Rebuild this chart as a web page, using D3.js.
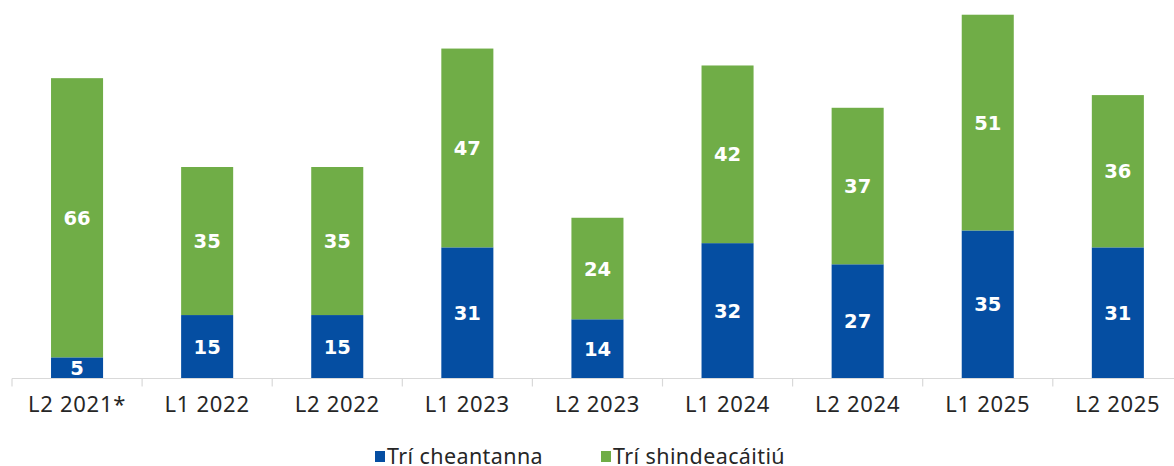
<!DOCTYPE html>
<html>
<head>
<meta charset="utf-8">
<script src="https://cdn.jsdelivr.net/npm/d3@7"></script>
<style>
  body { margin: 0; background: #fff; }
</style>
</head>
<body>
<div id="chart"></div>
<script>
// Chart data
var categories = ["L2 2021*", "L1 2022", "L2 2022", "L1 2023", "L2 2023", "L1 2024", "L2 2024", "L1 2025", "L2 2025"];
var regions = [5, 15, 15, 31, 14, 32, 27, 35, 31];          // Trí cheantanna
var syndication = [66, 35, 35, 47, 24, 42, 37, 51, 36];     // Trí shindeacáitiú
var seriesNames = ["Trí cheantanna", "Trí shindeacáitiú"];
var colors = ["#054ea2", "#70ad47"];

// Setting chart parameters
var svgWidth = 1174;
var svgHeight = 466;
var baseY = 378.5;
var unit = 4.23;

var svg = d3.select("#chart")
  .append("svg")
  .attr("width", svgWidth)
  .attr("height", svgHeight);

// Scales
var x = d3.scaleBand().domain(categories).range([12, 12 + 9 * 130.1]).padding(0);
var y = d3.scaleLinear().domain([0, 100]).range([baseY, baseY - 100 * unit]);

var barW = x.bandwidth() * 0.4;

// Stack the two series
var rows = categories.map(function(c, i) {
  return { cat: c, s0: regions[i], s1: syndication[i] };
});
var stack = d3.stack().keys(["s0", "s1"])(rows);

var layers = svg.selectAll("g.layer")
  .data(stack)
  .enter().append("g")
  .attr("class", "layer")
  .attr("fill", function(d, i) { return colors[i]; });

layers.selectAll("rect")
  .data(function(d) { return d; })
  .enter().append("rect")
  .attr("x", function(d) { return x(d.data.cat) + (x.bandwidth() - barW) / 2; })
  .attr("width", barW)
  .attr("y", function(d) { return y(d[1]); })
  .attr("height", function(d) { return y(d[0]) - y(d[1]); });

// Value labels
layers.selectAll("text")
  .data(function(d) { return d; })
  .enter().append("text")
  .attr("x", function(d) { return x(d.data.cat) + x.bandwidth() / 2; })
  .attr("y", function(d) { return (y(d[0]) + y(d[1])) / 2; })
  .attr("dy", "0.36em")
  .attr("text-anchor", "middle")
  .attr("fill", "#fff")
  .style("font-family", "DejaVu Sans, sans-serif")
  .style("font-weight", "bold")
  .style("font-size", "19.5px")
  .text(function(d) { return d[1] - d[0]; });

// X axis: line with ticks between categories
var axis = svg.append("g").attr("class", "x-axis");
axis.append("line")
  .attr("x1", 12).attr("x2", svgWidth)
  .attr("y1", baseY).attr("y2", baseY)
  .attr("stroke", "#d9d9d9").attr("stroke-width", 1.2);
var tickPos = categories.map(function(c) { return x(c); }).concat([x.range()[1]]);
axis.selectAll("line.tick")
  .data(tickPos)
  .enter().append("line")
  .attr("class", "tick")
  .attr("x1", function(d) { return d; }).attr("x2", function(d) { return d; })
  .attr("y1", baseY).attr("y2", baseY + 8)
  .attr("stroke", "#d9d9d9").attr("stroke-width", 1.2);
axis.selectAll("text")
  .data(categories)
  .enter().append("text")
  .attr("x", function(d) { return x(d) + x.bandwidth() / 2; })
  .attr("y", 412)
  .attr("text-anchor", "middle")
  .attr("fill", "#262626")
  .style("font-family", "Noto Sans, sans-serif")
  .style("font-size", "22px")
  .style("letter-spacing", "0.7px")
  .text(function(d) { return d; });

// Legend
var legendX = [375, 601];
var legend = svg.selectAll("g.legend")
  .data(seriesNames)
  .enter().append("g")
  .attr("class", "legend")
  .attr("transform", function(d, i) { return "translate(" + legendX[i] + ",451)"; });
legend.append("rect")
  .attr("width", 10).attr("height", 11)
  .attr("fill", function(d, i) { return colors[i]; });
legend.append("text")
  .attr("x", 12)
  .attr("y", 12.5)
  .attr("fill", "#262626")
  .style("font-family", "Noto Sans, sans-serif")
  .style("font-size", "21.5px")
  .style("letter-spacing", "0.4px")
  .text(function(d) { return d; });
</script>
</body>
</html>
